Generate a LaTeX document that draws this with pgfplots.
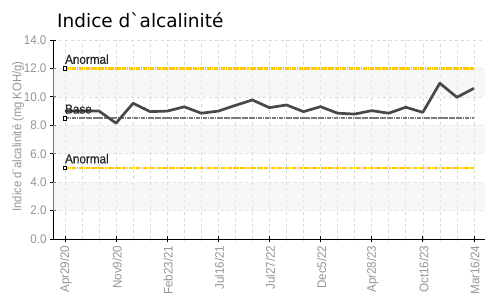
\documentclass[border=0pt]{standalone}
\usepackage{pgfplots}
\pgfplotsset{compat=1.18}
\usepackage{fontspec}
\setmainfont{Liberation Sans}
\newfontfamily\titlefont{DejaVu Sans}
\newfontfamily\condfont[FakeStretch=0.93]{Liberation Sans}
\newfontfamily\labfont[FakeStretch=0.9]{Liberation Sans}
\newfontfamily\annfont[FakeStretch=0.9, FakeBold=0.6]{Liberation Sans}
\definecolor{tickgray}{HTML}{959595}
\definecolor{gridgray}{HTML}{D9D9D9}
\definecolor{bandgray}{HTML}{F0F0F0}
\definecolor{dataline}{HTML}{484848}
\definecolor{baselinegray}{HTML}{7A7A7A}
\definecolor{anomyellow}{HTML}{FFC800}
\pgfplotstableread{
x y
0 9.0
1 9.0
2 9.0
3 8.15
4 9.55
5 8.96
6 9.0
7 9.3
8 8.85
9 9.0
10 9.4
11 9.78
12 9.24
13 9.43
14 8.96
15 9.31
16 8.85
17 8.79
18 9.03
19 8.85
20 9.27
21 8.91
22 10.96
23 9.97
24 10.6
}\datatable
\begin{document}
\begin{tikzpicture}
\path[use as bounding box] (-53pt,-62pt) rectangle (432pt,239pt);
\begin{axis}[
  scale only axis,
  width=432pt, height=199pt,
  xmin=-0.7, xmax=24.65,
  ymin=0, ymax=14,
  axis x line=bottom, axis y line=left,
  axis line style={-, black, line width=0.8pt},
  xtick={0,3,...,24},
  minor xtick={0,1,...,24},
  xticklabels={Apr29/20,Nov9/20,Feb23/21,Jul16/21,Jul27/22,Dec5/22,Apr28/23,Oct16/23,Mar16/24},
  ytick={0,2,...,14},
  yticklabel={\pgfmathprintnumber[fixed,fixed zerofill,precision=1]{\tick}},
  /pgf/number format/assume math mode=true,
  tick align=center,
  major tick length=6pt,
  minor tick length=3pt,
  major tick style={black, line width=0.8pt},
  minor tick style={gridgray, line width=0.6pt},
  grid=both,
  major grid style={gridgray, dashed, line width=0.6pt},
  minor grid style={gridgray, dashed, line width=0.6pt},
  ticklabel style={font=\condfont\fontsize{12.5}{13}\selectfont, text=tickgray},
  xticklabel style={rotate=90, anchor=east, yshift=-1pt},
  ylabel={Indice d`alcalinité (mg KOH/g)},
  ylabel style={at={(axis description cs:-0.081,0.515)}, anchor=center, font=\labfont\fontsize{12.5}{13}\selectfont, text=tickgray},
  clip=false,
]
\addplot[fill=bandgray, fill opacity=0.5, draw=none, forget plot] coordinates {(-0.7,2) (24.65,2) (24.65,4) (-0.7,4)} -- cycle;
\addplot[fill=bandgray, fill opacity=0.5, draw=none, forget plot] coordinates {(-0.7,6) (24.65,6) (24.65,8) (-0.7,8)} -- cycle;
\addplot[fill=bandgray, fill opacity=0.5, draw=none, forget plot] coordinates {(-0.7,10) (24.65,10) (24.65,12) (-0.7,12)} -- cycle;
\addplot[anomyellow, line width=2.4pt, dash pattern=on 4pt off 0.8pt on 1.5pt off 0.8pt,
  mark=square*, mark indices={1}, mark options={solid, fill=white, draw=black, line width=0.7pt, scale=0.95}] coordinates {(0,12) (24,12)};
\addplot[anomyellow, line width=2.4pt, dash pattern=on 4pt off 0.8pt on 1.5pt off 0.8pt,
  mark=square*, mark indices={1}, mark options={solid, fill=white, draw=black, line width=0.7pt, scale=0.95}] coordinates {(0,5) (24,5)};
\addplot[baselinegray, line width=2.2pt, dash pattern=on 4pt off 0.7pt on 1.5pt off 0.7pt,
  mark=square*, mark indices={1}, mark options={solid, fill=white, draw=black, line width=0.7pt, scale=0.95}] coordinates {(0,8.5) (24,8.5)};
\addplot[dataline, line width=2.7pt, line join=round, no marks] table[x=x,y=y] {\datatable};
\node[anchor=south west, inner sep=0pt, text=black!85, font=\annfont\fontsize{13}{14}\selectfont] at (axis cs:0,12.3) {Anormal};
\node[anchor=south west, inner sep=0pt, text=black!85, font=\annfont\fontsize{13}{14}\selectfont] at (axis cs:0,5.3) {Anormal};
\node[anchor=south west, inner sep=0pt, text=black!85, font=\annfont\fontsize{13}{14}\selectfont] at (axis cs:0,8.8) {Base};
\end{axis}
\node[anchor=base west, inner sep=0pt, font=\titlefont\fontsize{18.5}{20}\selectfont] at (4pt,212pt) {Indice d`alcalinité};
\end{tikzpicture}
\end{document}
